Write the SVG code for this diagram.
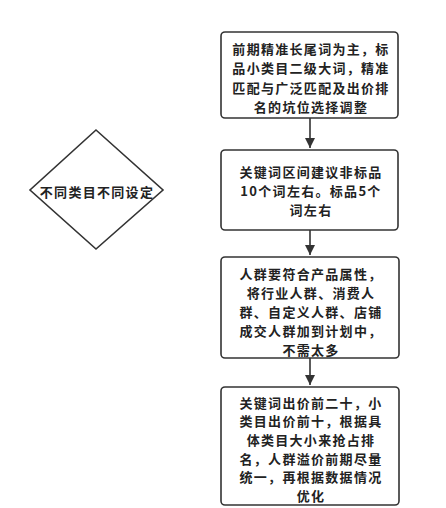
<svg xmlns="http://www.w3.org/2000/svg" width="446" height="508" viewBox="0 0 446 508">
<defs>
<marker id="arr" viewBox="0 0 10 10" refX="10" refY="5" markerWidth="10" markerHeight="10" markerUnits="userSpaceOnUse" orient="auto">
<path d="M0,0 L10,5 L0,10 Z" fill="#333"/>
</marker>
</defs>
<style>
.box{fill:#fff;stroke:#333;stroke-width:1.6}
.t{font-family:"Noto Sans CJK SC","Noto Sans",sans-serif;font-weight:bold;font-size:13px;letter-spacing:1.3px;fill:#222;text-anchor:middle;dominant-baseline:central}
.c{stroke:#333;stroke-width:1.6;fill:none}
</style>
<rect width="446" height="508" fill="#fff"/>
<g id="n1">
<rect class="box" x="221" y="32" width="177" height="86" rx="4"/>
<text class="t" x="311" y="48">前期精准长尾词为主，标</text>
<text class="t" x="311" y="67.5">品小类目二级大词，精准</text>
<text class="t" x="311" y="87">匹配与广泛匹配及出价排</text>
<text class="t" x="311" y="106.5">名的坑位选择调整</text>
</g>
<g id="n2">
<rect class="box" x="221" y="150" width="177" height="80" rx="4"/>
<text class="t" x="311" y="171">关键词区间建议非标品</text>
<text class="t" x="311" y="190">10个词左右。标品5个</text>
<text class="t" x="311" y="209">词左右</text>
</g>
<g id="n3">
<rect class="box" x="221" y="257" width="178" height="101" rx="4"/>
<text class="t" x="311" y="273">人群要符合产品属性，</text>
<text class="t" x="311" y="292">将行业人群、消费人</text>
<text class="t" x="311" y="311">群、自定义人群、店铺</text>
<text class="t" x="311" y="330">成交人群加到计划中，</text>
<text class="t" x="311" y="349">不需太多</text>
</g>
<g id="n4">
<rect class="box" x="221" y="387" width="178" height="118" rx="4"/>
<text class="t" x="311" y="402">关键词出价前二十，小</text>
<text class="t" x="311" y="420.7">类目出价前十，根据具</text>
<text class="t" x="311" y="439.4">体类目大小来抢占排</text>
<text class="t" x="311" y="458.1">名，人群溢价前期尽量</text>
<text class="t" x="311" y="476.8">统一，再根据数据情况</text>
<text class="t" x="311" y="495.5">优化</text>
</g>
<g id="d1">
<polygon class="box" points="96,130 163,190 96,249 30,190"/>
<text class="t" x="97" y="191">不同类目不同设定</text>
</g>
<g id="connectors">
<line class="c" x1="310" y1="118" x2="310" y2="148" marker-end="url(#arr)"/>
<line class="c" x1="310" y1="230" x2="310" y2="255" marker-end="url(#arr)"/>
<line class="c" x1="310" y1="358" x2="310" y2="385" marker-end="url(#arr)"/>
</g>
</svg>
